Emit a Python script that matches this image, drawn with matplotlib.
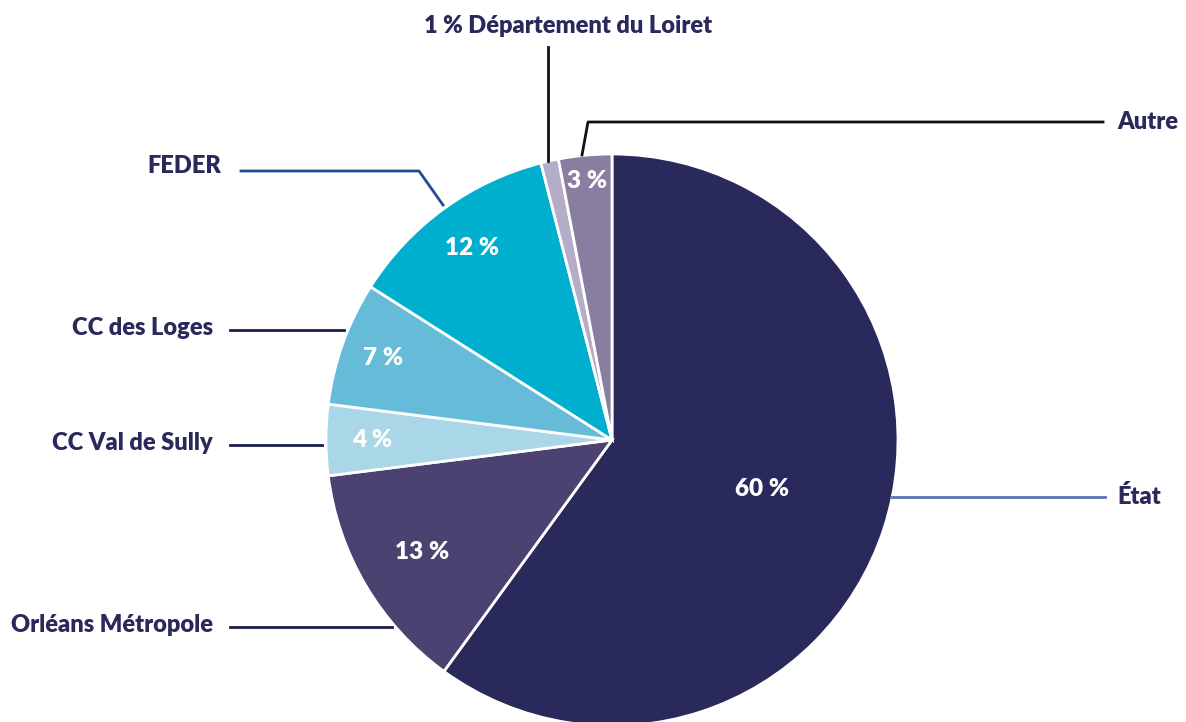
import numpy as np
import matplotlib.pyplot as plt

# Data
labels = ["État", "Orléans Métropole", "CC Val de Sully", "CC des Loges",
          "FEDER", "1 % Département du Loiret", "Autre"]
values = [60, 13, 4, 7, 12, 1, 3]
pct_text = ["60 %", "13 %", "4 %", "7 %", "12 %", "", "3 %"]
colors = ["#2a295b", "#4b4271", "#a9d7e8", "#66bcd8", "#00afcd", "#b3adc7", "#887ea0"]

W, H = 1186, 722
cx, cy, R = 612, H - 440, 286
navy = "#2a295b"

plt.rcParams['font.family'] = ['Lato', 'DejaVu Sans']

fig = plt.figure(figsize=(W / 100, H / 100), dpi=100)
ax = fig.add_axes([0, 0, 1, 1])
wedges, _ = ax.pie(values, colors=colors, startangle=90, counterclock=False,
                   radius=R, center=(cx, cy),
                   wedgeprops=dict(edgecolor="white", linewidth=2))
ax.set_xlim(0, W)
ax.set_ylim(0, H)
ax.set_aspect("equal")
ax.axis("off")

# percentage labels inside the wedges
pct_r = [0.55, 0.77, 0.84, 0.85, 0.83, 0, 0.91]
for w, t, r in zip(wedges, pct_text, pct_r):
    if not t:
        continue
    a = np.deg2rad((w.theta1 + w.theta2) / 2)
    ax.text(cx + r * R * np.cos(a), cy + r * R * np.sin(a), t, color="white",
            fontsize=17.5, fontweight="heavy", ha="center", va="center")

def edge_x(y, side):
    return cx + side * np.sqrt(R ** 2 - (y - cy) ** 2)

txt = dict(color=navy, fontsize=17, fontweight="heavy", va="center")

# État (right)
y = H - 497
ax.plot([edge_x(y, 1), 1105], [y, y], color="#5a75b8", lw=2)
ax.text(1117, y, labels[0], ha="left", **txt)

# left side horizontal leaders
for i, yp, lx in [(1, 627, 230), (2, 445, 230), (3, 330, 230)]:
    y = H - yp
    ax.plot([edge_x(y, -1) - 4, lx], [y, y], color="#1b1f4d", lw=2)
    ax.text(lx - 17, y + 2, labels[i], ha="right", **txt)

# FEDER with elbow
ax.plot([443, 419, 241], [H - 205, H - 171, H - 171], color="#1d4f91", lw=2)
ax.text(221, H - 166, labels[4], ha="right", **txt)

# Département (vertical)
x = 548
ax.plot([x, x], [cy + np.sqrt(R ** 2 - (x - cx) ** 2), H - 47], color="#111111", lw=2)
ax.text(568, H - 26, labels[5], ha="center", **txt)

# Autre with elbow
ax.plot([582, 588, 1103], [H - 155, H - 122, H - 122], color="#111111", lw=2)
ax.text(1117, H - 122, labels[6], ha="left", **txt)

fig.savefig("out.png", dpi=100)
